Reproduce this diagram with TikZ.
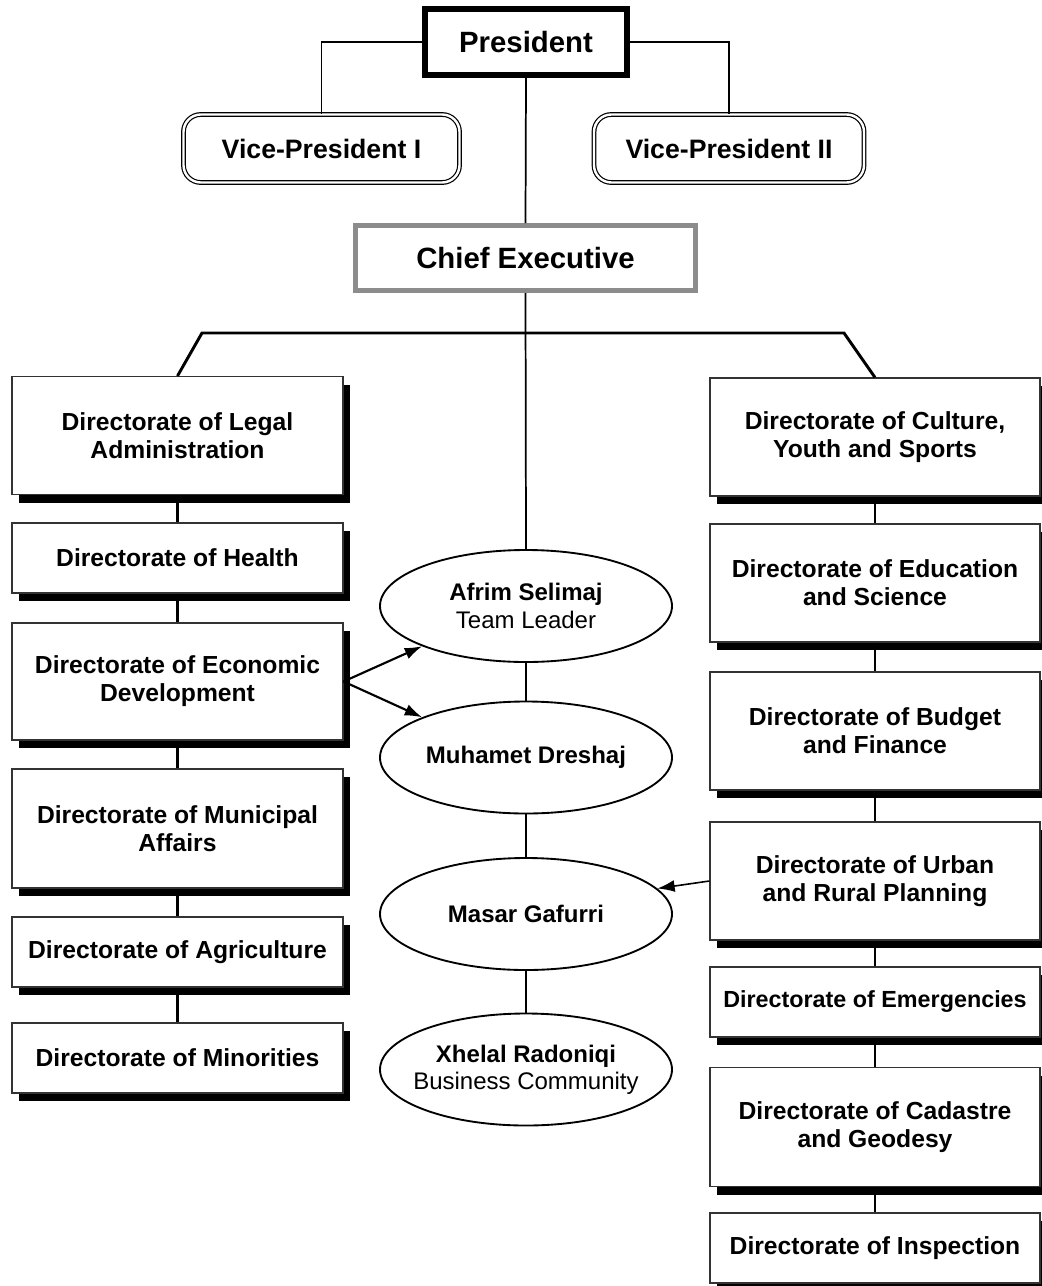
\documentclass[tikz,border=0pt]{standalone}
\usepackage{fontspec}
\setmainfont{Liberation Sans}
\usetikzlibrary{shapes.geometric,shadows,arrows.meta}
\newlength{\pxu}
\setlength{\pxu}{0.75pt}

\begin{document}
\begin{tikzpicture}[x=0.75pt,y=-0.75pt,
  dirbox/.style={draw=black!80, line width=0.8pt, fill=white, align=center, inner sep=0pt,
    font=\fontsize{18.5}{21}\selectfont\bfseries,
    drop shadow={shadow xshift=5.25pt, shadow yshift=-6pt, fill=black, opacity=1}},
  leftbox/.style={dirbox, minimum width=331\pxu},
  rightbox/.style={dirbox, minimum width=330\pxu},
  vpbox/.style={draw, double, double distance=1.8pt, line width=0.9pt, rounded corners=13pt, fill=white,
    minimum height=68\pxu, inner sep=0pt, font=\fontsize{20}{24}\selectfont\bfseries},
  person/.style={draw, ellipse, line width=1.4pt, fill=white, minimum width=292\pxu, minimum height=112\pxu,
    inner xsep=-16\pxu, inner ysep=0pt, align=center, font=\fontsize{18}{20.5}\selectfont},
  link/.style={line width=2.2pt},
  thinlink/.style={line width=1.3pt},
  pointer/.style={line width=1.6pt, -{Latex[length=13pt,width=9pt]}}]
\useasboundingbox (0,0) rectangle (1042,1286);

\node [draw, line width=4.5pt, fill=white, minimum width=202\pxu, minimum height=66\pxu, inner sep=0pt,
  font=\fontsize{22}{26}\selectfont\bfseries,
  drop shadow={shadow xshift=1.5pt, shadow yshift=-1.5pt, fill=black, opacity=1}] (president) at (526,42) {President};
\node [vpbox, minimum width=276\pxu] (vp1) at (321.5,148.5) {Vice-President I};
\node [vpbox, minimum width=270\pxu] (vp2) at (729,148.5) {Vice-President II};
\node [draw=black!45, line width=3.75pt, fill=white, minimum width=340\pxu, minimum height=65\pxu, inner sep=0pt,
  font=\fontsize{22}{26}\selectfont\bfseries] (chief) at (525.5,258) {Chief Executive};

\node [leftbox, minimum height=118\pxu] (legal) at (177.5,435.5) {Directorate of Legal\\Administration};
\node [leftbox, minimum height=70\pxu] (health) at (177.5,558) {Directorate of Health};
\node [leftbox, minimum height=117\pxu] (econ) at (177.5,681.5) {Directorate of Economic\\Development};
\node [leftbox, minimum height=119\pxu] (municipal) at (177.5,828.5) {Directorate of Municipal\\Affairs};
\node [leftbox, minimum height=70\pxu] (agri) at (177.5,952) {Directorate of Agriculture};
\node [leftbox, minimum height=70\pxu] (minor) at (177.5,1058) {Directorate of Minorities};

\node [rightbox, minimum height=118\pxu] (culture) at (875,437) {Directorate of Culture,\\Youth and Sports};
\node [rightbox, minimum height=118\pxu] (educ) at (875,583) {Directorate of Education\\and Science};
\node [rightbox, minimum height=118\pxu] (budget) at (875,731) {Directorate of Budget\\and Finance};
\node [rightbox, minimum height=118\pxu] (urban) at (875,881) {Directorate of Urban\\and Rural Planning};
\node [rightbox, minimum height=70\pxu, font=\fontsize{17.5}{21}\selectfont\bfseries] (emerg) at (875,1002) {Directorate of Emergencies};
\node [rightbox, minimum height=119\pxu] (cadastre) at (875,1127) {Directorate of Cadastre\\and Geodesy};
\node [rightbox, minimum height=70\pxu] (inspect) at (875,1248) {Directorate of Inspection};

\node [person] (afrim) at (526,606) {\textbf{Afrim Selimaj}\\Team Leader};
\node [person] (dreshaj) at (526,757.5) {\textbf{Muhamet Dreshaj}};
\node [person] (gafurri) at (526,914) {\textbf{Masar Gafurri}};
\node [person] (radoniqi) at (526,1069.5) {\textbf{Xhelal Radoniqi}\\Business Community};

\coordinate (bl) at (202,333);
\coordinate (br) at (844,333);

\draw [thinlink] (president.west) -| (vp1.north);
\draw [thinlink] (president.east) -| (vp2.north);
\draw [thinlink] (president.south) -- (chief.north);
\draw [thinlink] (chief.south) -- (afrim.north);
\draw [link] (legal.north) -- (bl) -- (br) -- (culture.north);

\draw [link] (legal) -- (health);
\draw [link] (health) -- (econ);
\draw [link] (econ) -- (municipal);
\draw [link] (municipal) -- (agri);
\draw [link] (agri) -- (minor);

\draw [link] (culture) -- (educ);
\draw [link] (educ) -- (budget);
\draw [link] (budget) -- (urban);
\draw [link] (urban) -- (emerg);
\draw [link] (emerg) -- (cadastre);
\draw [link] (cadastre) -- (inspect);

\draw [thinlink] (afrim) -- (dreshaj);
\draw [thinlink] (dreshaj) -- (gafurri);
\draw [thinlink] (gafurri) -- (radoniqi);

\draw [pointer] (econ.east) -- (afrim.south west);
\draw [pointer] (econ.east) -- (dreshaj.north west);
\draw [pointer, line width=1.2pt] (urban.west) -- (gafurri.11);
\end{tikzpicture}
\end{document}
